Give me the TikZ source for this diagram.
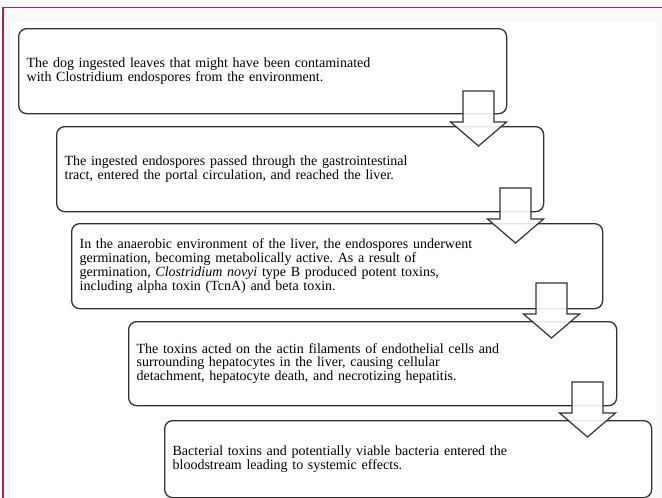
\documentclass[tikz,border=0pt]{standalone}
\usepackage{fontspec}
\setmainfont{Liberation Serif}
\usepackage{tikz}
\definecolor{FrameRed}{RGB}{172,38,68}
\definecolor{PaleBack}{RGB}{251,248,249}
\definecolor{BoxLine}{RGB}{50,50,50}
\setlength{\lineskiplimit}{-100pt}
\frenchspacing

\tikzset{
	stepbox/.style={draw=BoxLine,line width=1.3pt,rounded corners=8pt,anchor=north west,align=left,inner xsep=8pt,inner ysep=0pt,
		font=\fontsize{14}{12.5}\selectfont},
	bigarrow/.style={draw=BoxLine,line width=1.2pt,fill=white,fill opacity=0.88}
}

% block arrow: stem top centre at #1
\newcommand{\blockarrow}[1]{
	\draw[bigarrow] (#1) ++(-15.5,0) -- ++(31,0) -- ++(0,31) -- ++(12.5,0) -- ++(-28,24) -- ++(-28,-24) -- ++(12.5,0) -- cycle;
}

\begin{document}
\begin{tikzpicture}[x=1pt,y=-1pt]
	\useasboundingbox (0,0) rectangle (662,498);
	\fill[white] (0,0) rectangle (662,498);
	\fill[PaleBack] (3,7.5) rectangle (662,498);
	\fill[white] (11,22) rectangle (657,498);
	\draw[FrameRed,line width=1.4pt] (3,498) -- (3,7.5) -- (662,7.5);

	% steps
	\node[stepbox,text width=472pt,minimum height=85pt] (dog) at (18,28) {The dog ingested leaves that might have been contaminated\\with Clostridium endospores from the environment.};
	\node[stepbox,text width=471pt,minimum height=85pt] (tract) at (56,126) {The ingested endospores passed through the gastrointestinal\\tract, entered the portal circulation, and reached the liver.};
	\node[stepbox,text width=515pt,minimum height=85pt] (germ) at (71,223) {In the anaerobic environment of the liver, the endospores underwent\\germination, becoming metabolically active. As a result of\\germination, \textit{Clostridium novyi} type B produced potent toxins,\\including alpha toxin (TcnA) and beta toxin.};
	\node[stepbox,text width=472pt,minimum height=84pt] (toxin) at (128,321) {The toxins acted on the actin filaments of endothelial cells and\\surrounding hepatocytes in the liver, causing cellular\\detachment, hepatocyte death, and necrotizing hepatitis.};
	\node[stepbox,text width=471pt,minimum height=77pt] (blood) at (164,420) {Bacterial toxins and potentially viable bacteria entered the\\bloodstream leading to systemic effects.};

	% arrows between steps
	\coordinate (dog-out) at (478.5,91);
	\coordinate (tract-out) at (515.5,188);
	\coordinate (germ-out) at (551.5,283);
	\coordinate (toxin-out) at (587.5,382);
	\blockarrow{dog-out}
	\blockarrow{tract-out}
	\blockarrow{germ-out}
	\blockarrow{toxin-out}
\end{tikzpicture}
\end{document}
